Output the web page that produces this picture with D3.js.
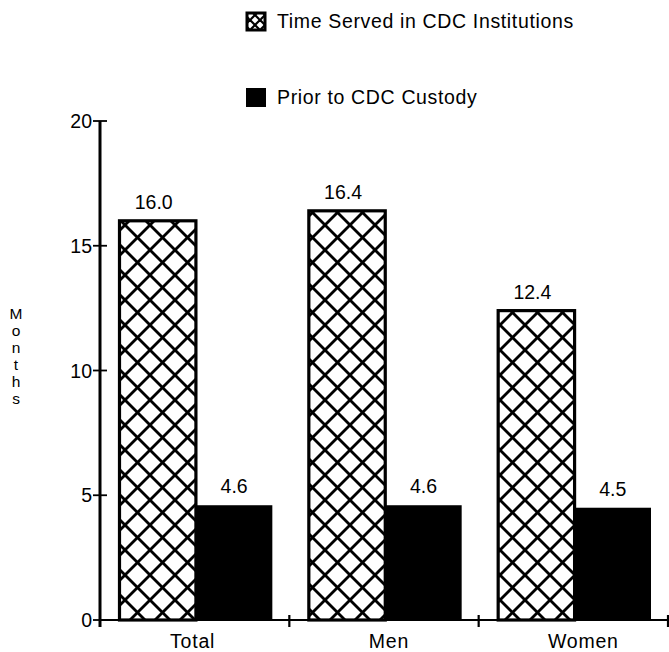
<!DOCTYPE html>
<html>
<head>
<meta charset="utf-8">
<script src="https://cdn.jsdelivr.net/npm/d3@7"></script>
<style>
  html, body { margin: 0; padding: 0; background: #fff; }
  svg { display: block; font-family: "Liberation Sans", Arial, Helvetica, sans-serif; }
</style>
</head>
<body>
<svg id="chart" width="669" height="652"></svg>
<script>
// ---- data ----
const categories = ["Total", "Men", "Women"];
const seriesNames = ["Time Served in CDC Institutions", "Prior to CDC Custody"];
const timeServed = [16.0, 16.4, 12.4];
const priorCustody = [4.6, 4.6, 4.5];
const yTicks = [0, 5, 10, 15, 20];
const yLabel = "Months";

const svg = d3.select("#chart");
const W = 669, H = 652;
const margin = { left: 100, right: 1, top: 121, bottom: 32 };

// patterns
const defs = svg.append("defs");
function hatch(id, size, sw) {
  const p = defs.append("pattern").attr("id", id).attr("patternUnits", "userSpaceOnUse")
    .attr("width", size).attr("height", size);
  p.append("rect").attr("width", size).attr("height", size).attr("fill", "#fff");
  const segs = [[0, 0, size, size], [size, 0, 0, size],
    [-size / 2, size / 2, size / 2, size * 1.5], [size / 2, -size / 2, size * 1.5, size / 2],
    [size / 2, -size / 2, -size / 2, size / 2], [size * 1.5, size / 2, size / 2, size * 1.5]];
  segs.forEach(s => p.append("line").attr("x1", s[0]).attr("y1", s[1]).attr("x2", s[2]).attr("y2", s[3])
    .attr("stroke", "#000").attr("stroke-width", sw));
}
hatch("xhatch", 25, 2.8);
hatch("xhatchSmall", 10, 2.2);

const x0 = d3.scaleBand().domain(categories).range([margin.left, W - margin.right]).paddingInner(0).paddingOuter(0);
const x1 = d3.scaleBand().domain(seriesNames).range([19.5, x0.bandwidth() - 17]).padding(0);
const y = d3.scaleLinear().domain([0, 20]).range([H - margin.bottom, margin.top]);

const rows = categories.map((c, i) => ({ cat: c, vals: [timeServed[i], priorCustody[i]] }));

// bars
const g = svg.append("g");
rows.forEach(r => {
  r.vals.forEach((v, j) => {
    const s = seriesNames[j];
    const bx = x0(r.cat) + x1(s);
    if (j === 0) {
      g.append("rect").attr("x", bx).attr("y", y(v)).attr("width", x1.bandwidth()).attr("height", y(0) - y(v))
        .attr("fill", "url(#xhatch)").attr("stroke", "#000").attr("stroke-width", 3.2);
    } else {
      g.append("rect").attr("x", bx).attr("y", y(v)).attr("width", x1.bandwidth()).attr("height", y(0) - y(v))
        .attr("fill", "#000");
    }
    g.append("text").attr("x", bx + x1.bandwidth() / 2 - (j === 0 ? 4 : 0)).attr("y", y(v) - 12)
      .attr("text-anchor", "middle").attr("font-size", 19.5).text(v.toFixed(1));
  });
});

// y axis
const yAxis = svg.append("g").attr("transform", `translate(${margin.left},0)`);
yAxis.append("line").attr("x1", 0).attr("x2", 0).attr("y1", y(20)).attr("y2", y(0) + 7)
  .attr("stroke", "#000").attr("stroke-width", 3);
yTicks.forEach(t => {
  yAxis.append("line").attr("x1", -7).attr("x2", 7).attr("y1", y(t)).attr("y2", y(t))
    .attr("stroke", "#000").attr("stroke-width", 1.8);
  yAxis.append("text").attr("x", -8).attr("y", y(t)).attr("dy", "0.36em").attr("text-anchor", "end")
    .attr("font-size", 19.5).text(t);
});

// x axis
const xAxis = svg.append("g");
xAxis.append("line").attr("x1", margin.left).attr("x2", W - margin.right).attr("y1", y(0)).attr("y2", y(0))
  .attr("stroke", "#000").attr("stroke-width", 2.2);
categories.forEach(c => {
  const tx = x0(c) + x0.bandwidth();
  xAxis.append("line").attr("x1", tx).attr("x2", tx).attr("y1", y(0) - 5).attr("y2", y(0) + 7)
    .attr("stroke", "#000").attr("stroke-width", 2.2);
  xAxis.append("text").attr("x", x0(c) + x0.bandwidth() / 2 + (c === "Women" ? 10 : c === "Men" ? 5 : -2))
    .attr("y", y(0) + 28).attr("text-anchor", "middle").attr("font-size", 19.5)
    .attr("letter-spacing", 0.8).text(c);
});

// y label (stacked letters)
yLabel.split("").forEach((ch, i) => {
  svg.append("text").attr("x", 16).attr("y", 319 + i * 17).attr("text-anchor", "middle")
    .attr("font-size", 15.5).text(ch);
});

// legend
const legend = svg.append("g");
const legY = [12, 88];
seriesNames.forEach((s, i) => {
  if (i === 0) {
    legend.append("rect").attr("x", 247).attr("y", legY[i] + 1).attr("width", 18).attr("height", 17)
      .attr("fill", "url(#xhatchSmall)").attr("stroke", "#000").attr("stroke-width", 3);
  } else {
    legend.append("rect").attr("x", 246).attr("y", legY[i]).attr("width", 20).attr("height", 19).attr("fill", "#000");
  }
  legend.append("text").attr("x", 277).attr("y", legY[i] + 16).attr("font-size", 19.5)
    .attr("letter-spacing", 0.65).text(s);
});
</script>
</body>
</html>
